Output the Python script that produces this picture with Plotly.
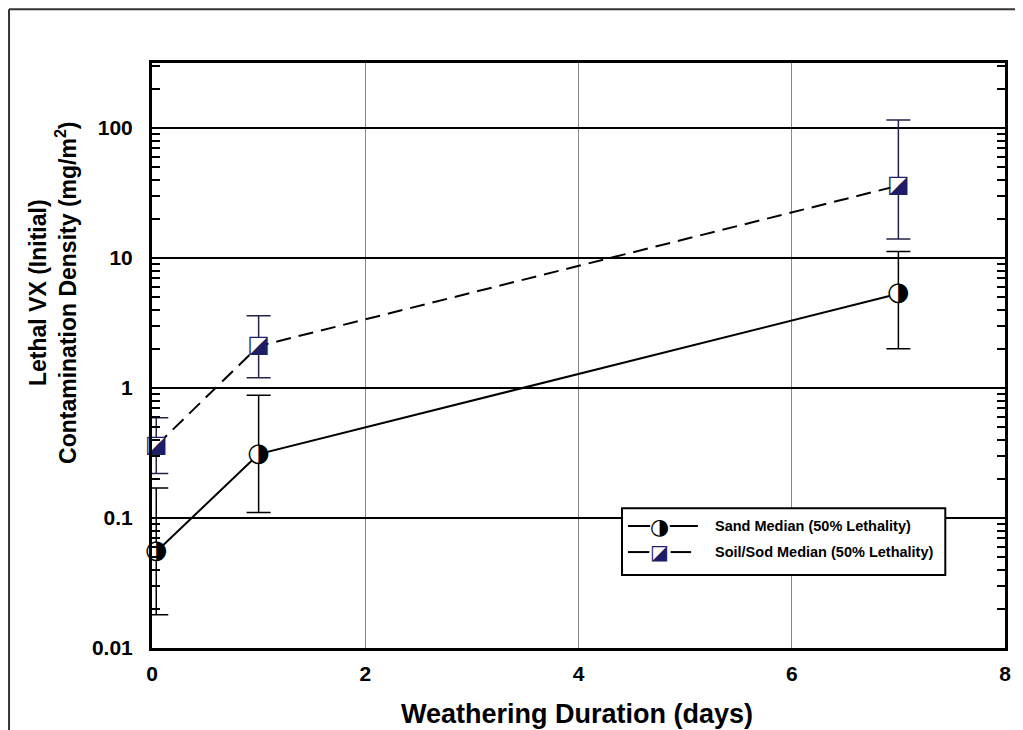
import plotly.graph_objects as go

# Data (median and error-bar limits, mg/m^2)
days = [0.04, 1, 7]
sand_median = [0.055, 0.31, 5.3]
sand_upper = [0.17, 0.88, 11.2]
sand_lower = [0.018, 0.11, 2.0]
soil_median = [0.36, 2.1, 36]
soil_upper = [0.59, 3.6, 115]
soil_lower = [0.22, 1.2, 14]

y_tickvals = [0.01, 0.1, 1, 10, 100]
y_ticktext = ['0.01', '0.1', '1', '10', '100']
x_tickvals = [0, 2, 4, 6, 8]

sand_name = 'Sand Median (50% Lethality)'
soil_name = 'Soil/Sod Median (50% Lethality)'

NAVY = '#1e1e66'
FONT = 'Liberation Sans, Arial, sans-serif'
GLYPH_FONT = 'DejaVu Sans'

fig = go.Figure()

# Sand: solid line, half-filled circle
fig.add_trace(go.Scatter(
    x=days, y=sand_median, mode='lines+markers', name=sand_name,
    line=dict(color='black', width=2),
    marker=dict(symbol='circle', size=18, color='white'),
    error_y=dict(type='data', symmetric=False,
                 array=[u - m for u, m in zip(sand_upper, sand_median)],
                 arrayminus=[m - l for m, l in zip(sand_median, sand_lower)],
                 color='black', thickness=1.5, width=12),
    cliponaxis=False, showlegend=False
))

# Soil/Sod: dashed line, diagonal half-filled square
fig.add_trace(go.Scatter(
    x=days, y=soil_median, mode='lines+markers', name=soil_name,
    line=dict(color='black', width=2, dash='15px,8px'),
    marker=dict(symbol='square', size=16, color='white'),
    error_y=dict(type='data', symmetric=False,
                 array=[u - m for u, m in zip(soil_upper, soil_median)],
                 arrayminus=[m - l for m, l in zip(soil_median, soil_lower)],
                 color='#23234a', thickness=1.5, width=12),
    cliponaxis=False, showlegend=False
))

# half-filled symbols drawn as glyphs on top of the white markers
fig.add_trace(go.Scatter(
    x=days, y=sand_median, mode='text', text=['\u25d1'] * len(days),
    textposition='middle center',
    textfont=dict(family=GLYPH_FONT, size=26, color='black'),
    cliponaxis=False, showlegend=False, hoverinfo='skip'
))
fig.add_trace(go.Scatter(
    x=days, y=soil_median, mode='text', text=['\u25ea'] * len(days),
    textposition='middle center',
    textfont=dict(family=GLYPH_FONT, size=24, color=NAVY),
    cliponaxis=False, showlegend=False, hoverinfo='skip'
))

# Legend box (hand-built so the half-filled symbols show)
shapes = [
    dict(type='rect', xref='paper', yref='paper', x0=0.551, x1=0.930, y0=0.125, y1=0.239,
         line=dict(color='black', width=2), fillcolor='white', layer='above'),
    dict(type='line', xref='paper', yref='paper', x0=0.558, x1=0.584, y0=0.2085, y1=0.2085,
         line=dict(color='black', width=2), layer='above'),
    dict(type='line', xref='paper', yref='paper', x0=0.607, x1=0.640, y0=0.2085, y1=0.2085,
         line=dict(color='black', width=2), layer='above'),
    dict(type='line', xref='paper', yref='paper', x0=0.558, x1=0.583, y0=0.164, y1=0.164,
         line=dict(color='black', width=2), layer='above'),
    dict(type='line', xref='paper', yref='paper', x0=0.608, x1=0.632, y0=0.164, y1=0.164,
         line=dict(color='black', width=2), layer='above'),
    # outer page frame
    dict(type='line', xref='paper', yref='paper', x0=-0.1676, x1=1.05, y0=1.092, y1=1.092,
         line=dict(color='#333333', width=2)),
    dict(type='line', xref='paper', yref='paper', x0=-0.1676, x1=-0.1676, y0=1.092, y1=-0.2,
         line=dict(color='#333333', width=2)),
]

annotations = [
    dict(x=0.5955, y=0.2085, xref='paper', yref='paper', text='\u25d1', showarrow=False,
         font=dict(family=GLYPH_FONT, size=22, color='black'), xanchor='center', yanchor='middle'),
    dict(x=0.5955, y=0.164, xref='paper', yref='paper', text='\u25ea', showarrow=False,
         font=dict(family=GLYPH_FONT, size=20, color=NAVY), xanchor='center', yanchor='middle'),
    dict(x=0.658, y=0.2085, xref='paper', yref='paper', text='<b>' + sand_name + '</b>',
         showarrow=False, font=dict(family=FONT, size=14.5, color='black'),
         xanchor='left', yanchor='middle'),
    dict(x=0.658, y=0.164, xref='paper', yref='paper', text='<b>' + soil_name + '</b>',
         showarrow=False, font=dict(family=FONT, size=14.5, color='black'),
         xanchor='left', yanchor='middle'),
    # axis titles
    dict(x=-0.116, y=0.607, xref='paper', yref='paper', textangle=-90, showarrow=False,
         text='<b>Lethal VX (Initial)<br>Contamination Density (mg/m<sup>2</sup>)</b>',
         font=dict(family=FONT, size=23, color='black'), xanchor='center', yanchor='middle'),
    dict(x=0.498, y=-0.113, xref='paper', yref='paper', showarrow=False,
         text='<b>Weathering Duration (days)</b>',
         font=dict(family=FONT, size=27, color='black'), xanchor='center', yanchor='middle'),
]

# the page body adds an 8px offset, so the figure is 8px smaller each way
fig.update_layout(
    width=1015, height=722,
    margin=dict(l=144, r=18, t=55, b=82),
    paper_bgcolor='white', plot_bgcolor='white',
    font=dict(family=FONT, color='black'),
    shapes=shapes, annotations=annotations,
    xaxis=dict(
        range=[0, 8], tickmode='array', tickvals=x_tickvals,
        ticktext=['<b>%d</b>' % v for v in x_tickvals],
        tickfont=dict(size=21, color='black'),
        showgrid=True, gridcolor='#8a8a8a', gridwidth=1,
        showline=True, linecolor='black', linewidth=3, mirror=True,
        ticks='', zeroline=False, ticklabelstandoff=5
    ),
    yaxis=dict(
        type='log', range=[-2, 2.5], tickmode='array', tickvals=y_tickvals,
        ticktext=['<b>%s</b>' % t for t in y_ticktext],
        tickfont=dict(size=21, color='black'),
        showgrid=True, gridcolor='black', gridwidth=1.8,
        showline=True, linecolor='black', linewidth=3, mirror='allticks',
        ticks='inside', ticklen=10, tickcolor='black', tickwidth=2,
        minor=dict(ticks='inside', ticklen=8, tickcolor='black', tickwidth=2,
                   dtick='D1', showgrid=False),
        zeroline=False, ticklabelstandoff=12
    ),
)

fig.write_html("out.html")
